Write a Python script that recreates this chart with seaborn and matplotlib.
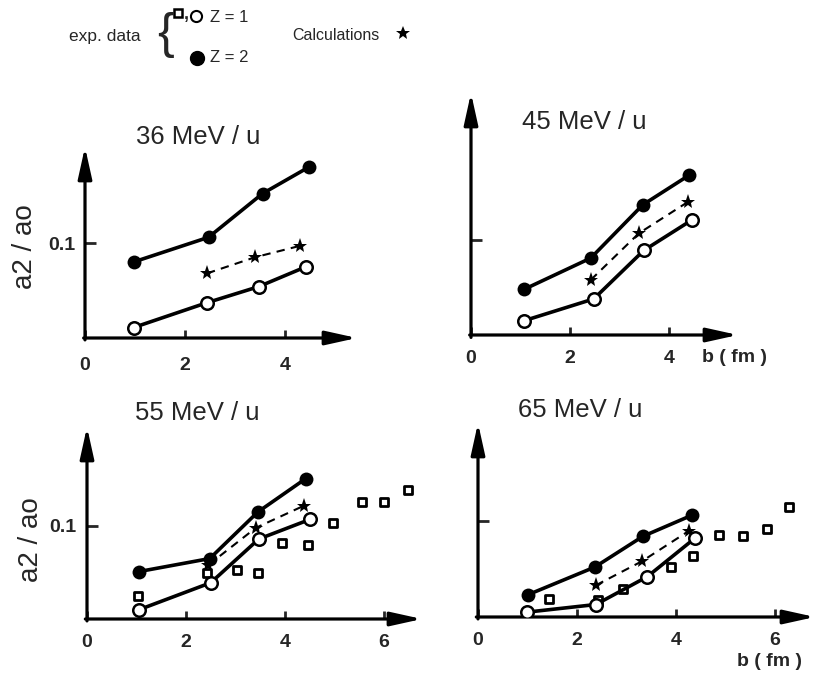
import matplotlib
matplotlib.use("Agg")
import matplotlib.pyplot as plt
import seaborn as sns

# 36 MeV / u
b36_z2 = [0.97, 2.47, 3.55, 4.48]
a36_z2 = [0.080, 0.106, 0.152, 0.180]
b36_z1 = [0.97, 2.43, 3.47, 4.42]
a36_z1 = [0.011, 0.037, 0.054, 0.075]
b36_calc = [2.44, 3.40, 4.30]
a36_calc = [0.068, 0.085, 0.097]

# 45 MeV / u
b45_z2 = [1.07, 2.42, 3.47, 4.40]
a45_z2 = [0.048, 0.081, 0.137, 0.168]
b45_z1 = [1.07, 2.48, 3.49, 4.46]
a45_z1 = [0.015, 0.038, 0.089, 0.121]
b45_calc = [2.42, 3.39, 4.38]
a45_calc = [0.058, 0.107, 0.140]

# 55 MeV / u
b55_z2 = [1.05, 2.48, 3.45, 4.42]
a55_z2 = [0.051, 0.065, 0.115, 0.151]
b55_z1 = [1.05, 2.50, 3.47, 4.50]
a55_z1 = [0.010, 0.039, 0.086, 0.107]
b55_calc = [2.45, 3.41, 4.39]
a55_calc = [0.058, 0.098, 0.122]
b55_sq = [1.03, 2.42, 3.03, 3.45, 3.94, 4.46, 4.97, 5.56, 6.00, 6.48]
a55_sq = [0.025, 0.050, 0.053, 0.050, 0.082, 0.080, 0.103, 0.126, 0.126, 0.139]

# 65 MeV / u
b65_z2 = [1.00, 2.36, 3.33, 4.32]
a65_z2 = [0.023, 0.052, 0.084, 0.106]
b65_z1 = [0.98, 2.38, 3.42, 4.38]
a65_z1 = [0.005, 0.013, 0.042, 0.082]
b65_calc = [2.38, 3.31, 4.27]
a65_calc = [0.033, 0.058, 0.090]
b65_sq = [1.44, 2.42, 2.92, 3.89, 4.35, 4.87, 5.36, 5.84, 6.29]
a65_sq = [0.019, 0.018, 0.029, 0.052, 0.064, 0.085, 0.084, 0.092, 0.115]

sns.set_style("white")
plt.rcParams['font.family'] = ['Liberation Sans', 'DejaVu Sans']

W, H = 817, 675
fig = plt.figure(figsize=(W / 100, H / 100), dpi=100)


def px_axes(left, right, bottom, top):
    return fig.add_axes([left / W, 1 - bottom / H, (right - left) / W, (bottom - top) / H])


def panel(ax, xmax, ymax, xticks, z1, z2, calc, sq=None, ylabels=True, xpad=11.5, ypad=7):
    ax.set_xlim(0, xmax)
    ax.set_ylim(0, ymax)
    for s in ax.spines.values():
        s.set_visible(False)
    arrow = dict(arrowstyle='-|>,head_length=1.9,head_width=0.42', color='k', lw=2.3,
                 shrinkA=0, shrinkB=0)
    ax.annotate('', xy=(1, 0), xytext=(-0.005, 0), xycoords='axes fraction', arrowprops=arrow)
    ax.annotate('', xy=(0, 1), xytext=(0, -0.01), xycoords='axes fraction', arrowprops=arrow)

    if sq is not None:
        sns.scatterplot(x=sq[0], y=sq[1], ax=ax, marker='s', s=40, color='white',
                        edgecolor='k', linewidth=2.0, zorder=5, clip_on=False)
    sns.lineplot(x=calc[0], y=calc[1], ax=ax, color='k', lw=1.5,
                 marker='*', markersize=11, markeredgewidth=0, zorder=3)
    ax.lines[-1].set_linestyle((0, (4, 3)))
    sns.lineplot(x=z2[0], y=z2[1], ax=ax, color='k', lw=2.6, marker='o', markersize=10,
                 markeredgewidth=0, zorder=4)
    sns.lineplot(x=z1[0], y=z1[1], ax=ax, color='k', lw=2.6, marker='o', markersize=9,
                 markerfacecolor='white', markeredgecolor='k', markeredgewidth=1.8, zorder=6)

    ax.set_xticks(xticks)
    ax.set_xticklabels([str(t) for t in xticks], fontweight='bold', fontsize=14)
    ax.set_yticks([0.1])
    ax.set_yticklabels(['0.1'] if ylabels else [''], fontweight='bold', fontsize=14)
    ax.tick_params(axis='x', direction='in', length=6, width=2, pad=xpad, bottom=True)
    ax.tick_params(axis='y', direction='in', length=8, width=2, pad=ypad, left=True)
    ax.set_xlabel('')
    ax.set_ylabel('')
    ax.patch.set_alpha(0)


ax1 = px_axes(85, 357, 338, 147)
panel(ax1, 272 / 50, 191 / 950, [0, 2, 4], (b36_z1, a36_z1), (b36_z2, a36_z2),
      (b36_calc, a36_calc), xpad=13.5)

ax2 = px_axes(471, 738, 335, 93)
panel(ax2, 267 / 49.5, 242 / 950, [0, 2, 4], (b45_z1, a45_z1), (b45_z2, a45_z2),
      (b45_calc, a45_calc), ylabels=False, xpad=11)

ax3 = px_axes(87, 422, 619, 427)
panel(ax3, 335 / 49.5, 192 / 930, [0, 2, 4, 6], (b55_z1, a55_z1), (b55_z2, a55_z2),
      (b55_calc, a55_calc), sq=(b55_sq, a55_sq), xpad=11, ypad=8)

ax4 = px_axes(478, 815, 617, 423)
panel(ax4, 337 / 49.5, 194 / 960, [0, 2, 4, 6], (b65_z1, a65_z1), (b65_z2, a65_z2),
      (b65_calc, a65_calc), sq=(b65_sq, a65_sq), ylabels=False, xpad=10.5)

# overlay for titles, labels and legend
ov = fig.add_axes([0, 0, 1, 1])
ov.set_xlim(0, W)
ov.set_ylim(H, 0)
ov.axis('off')

for x, y, t in [(198, 137, '36 MeV / u'), (584, 122, '45 MeV / u'),
                (197, 413, '55 MeV / u'), (580, 410, '65 MeV / u')]:
    ov.text(x, y, t, ha='center', va='center', fontsize=18.5)

for x, y in [(25, 247), (31, 540)]:
    ov.text(x, y, 'a2 / ao', ha='center', va='center', rotation=90, fontsize=20)

for x, y in [(735, 357), (770, 662)]:
    ov.text(x, y, 'b ( fm )', ha='center', va='center', fontsize=14, fontweight='bold')

ov.text(105, 36, 'exp. data', ha='center', va='center', fontsize=12.5)
ov.text(166, 35, '{', ha='center', va='center', fontsize=36)
ov.plot([178], [13], marker='s', ms=6, mfc='white', mec='k', mew=1.8, ls='none')
ov.text(186, 15, ',', ha='center', va='center', fontsize=13, fontweight='bold')
ov.plot([196], [16], marker='o', ms=8, mfc='white', mec='k', mew=1.5, ls='none')
ov.text(210, 17, 'Z = 1', ha='left', va='center', fontsize=12)
ov.plot([197], [58], marker='o', ms=10, mfc='k', mec='k', ls='none')
ov.text(210, 58, 'Z = 2', ha='left', va='center', fontsize=12)
ov.text(292, 35, 'Calculations', ha='left', va='center', fontsize=11.5)
ov.plot([403], [33], marker='*', ms=10, color='k', mew=0, ls='none')

fig.savefig('out.png', dpi=100)
